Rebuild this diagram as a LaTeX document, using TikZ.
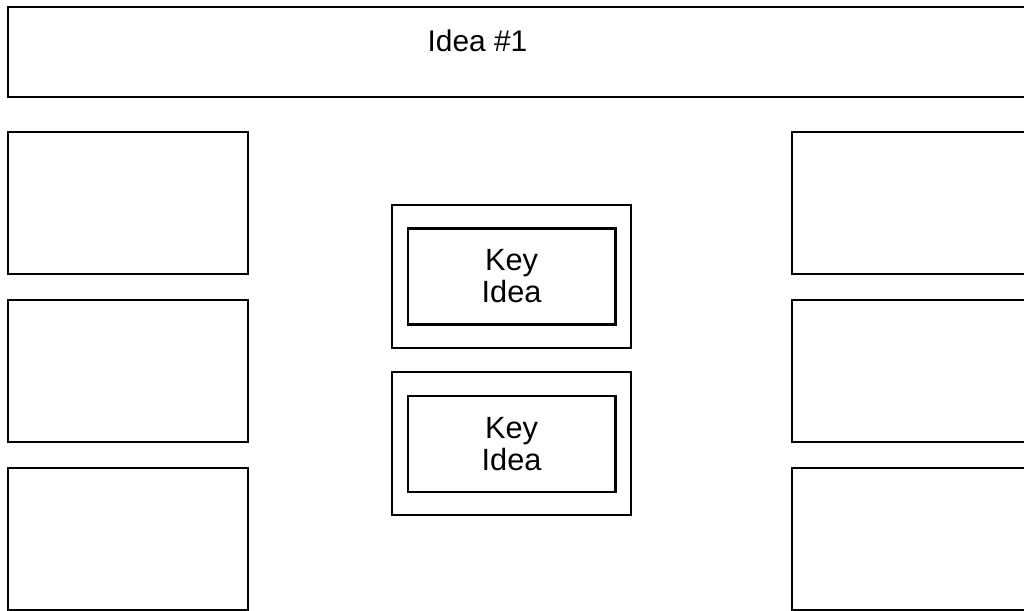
\documentclass[tikz,border=0pt]{standalone}
\usepackage{fontspec}
\setmainfont{Liberation Sans}
\usetikzlibrary{positioning}

\begin{document}
\begin{tikzpicture}[x=0.02cm,y=-0.02cm,
	box/.style={draw,line width=1.2pt,inner sep=0pt,anchor=north west},
	side/.style={box,minimum width=4.8cm,minimum height=2.84cm},
	outer/.style={box,minimum width=4.78cm,minimum height=2.86cm},
	inner/.style={box,anchor=center,minimum width=4.16cm,minimum height=1.92cm,
		align=center,font=\fontsize{17.5}{18.2}\selectfont}]
	\useasboundingbox (0,0) rectangle (1024,611);
	
	% top banner
	\node[box,minimum width=20.46cm,minimum height=1.8cm] (top) at (7,6) {};
	\node[anchor=base,font=\fontsize{17}{18.2}\selectfont] (title) at (477.5,52) {Idea \#1};
	
	% left column
	\node[side] (L1) at (7,131) {};
	\node[side,below=0.48cm of L1] (L2) {};
	\node[side,below=0.48cm of L2] (L3) {};
	
	% right column
	\node[side] (R1) at (791,131) {};
	\node[side,below=0.48cm of R1] (R2) {};
	\node[side,below=0.48cm of R2] (R3) {};
	
	% key ideas
	\node[outer] (K1) at (391,204) {};
	\node[inner] (I1) at (K1.center) {Key\\Idea};
	\node[outer,below=0.44cm of K1] (K2) {};
	\node[inner] (I2) at (K2.center) {Key\\Idea};
\end{tikzpicture}
\end{document}
